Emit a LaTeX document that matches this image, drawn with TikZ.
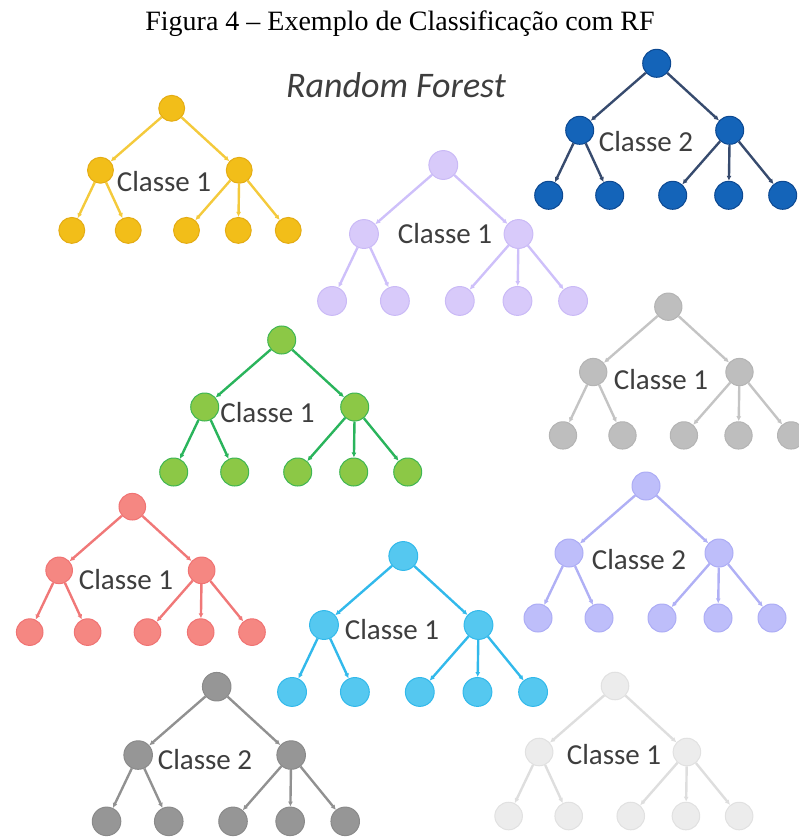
\documentclass[tikz,border=0pt]{standalone}
\usepackage{fontspec}
\setmainfont{Liberation Serif}
\newfontfamily\carlito{Carlito}
\usepackage{tikz}
\usetikzlibrary{arrows.meta}
\usepackage{xcolor}

% fill / rim / branch colours of each tree
\definecolor{goldfill}{RGB}{242,190,25}   \definecolor{goldrim}{RGB}{228,172,20}   \definecolor{goldline}{RGB}{244,202,60}
\definecolor{navyfill}{RGB}{20,100,185}   \definecolor{navyrim}{RGB}{12,72,145}    \definecolor{navyline}{RGB}{55,75,110}
\definecolor{lilacfill}{RGB}{216,202,250} \definecolor{lilacrim}{RGB}{202,186,246} \definecolor{lilacline}{RGB}{206,192,250}
\definecolor{silverfill}{RGB}{190,190,190}\definecolor{silverrim}{RGB}{180,180,180}\definecolor{silverline}{RGB}{196,196,196}
\definecolor{leaffill}{RGB}{140,200,70}   \definecolor{leafrim}{RGB}{62,182,82}    \definecolor{leafline}{RGB}{42,180,92}
\definecolor{salmonfill}{RGB}{245,135,130}\definecolor{salmonrim}{RGB}{240,115,115}\definecolor{salmonline}{RGB}{240,120,120}
\definecolor{skyfill}{RGB}{85,200,240}    \definecolor{skyrim}{RGB}{50,185,235}    \definecolor{skyline}{RGB}{50,185,235}
\definecolor{perifill}{RGB}{190,190,250}  \definecolor{peririm}{RGB}{172,172,245}  \definecolor{periline}{RGB}{176,176,245}
\definecolor{greyfill}{RGB}{150,150,150}  \definecolor{greyrim}{RGB}{138,138,138}  \definecolor{greyline}{RGB}{145,145,145}
\definecolor{palefill}{RGB}{236,236,236}  \definecolor{palerim}{RGB}{225,225,225}  \definecolor{paleline}{RGB}{222,222,222}
\definecolor{labelgray}{RGB}{62,62,62}

\tikzset{
  vertex/.style={circle, inner sep=0pt, line width=1pt},
  branch/.style={line width=2.4pt, -{Latex[length=5pt,width=5pt]}},
  classe/.style={inner sep=0pt, text=labelgray, font=\carlito\fontsize{29}{30}\selectfont},
}

% #1 tree name (also colour prefix), #2 root, #3 scale, #4 label position, #5 label
\newcommand{\rftree}[5]{%
  \begin{scope}[shift={#2}, scale=#3]
    \tikzset{every node/.append style={vertex, minimum size=#3*28pt, fill=#1fill, draw=#1rim}}
    \node (#1r) at (0,0) {};
    \node (#1a) at (-77,67) {};
    \node (#1b) at (73,67) {};
    \foreach \n/\x in {1/-108, 2/-47, 3/16, 4/72, 5/126}
      \node (#1\n) at (\x,132) {};
    \draw[branch, draw=#1line, fill=#1line] (#1r) -- (#1a);
    \draw[branch, draw=#1line, fill=#1line] (#1r) -- (#1b);
    \foreach \n in {1,2}
      \draw[branch, draw=#1line, fill=#1line] (#1a) -- (#1\n);
    \foreach \n in {3,4,5}
      \draw[branch, draw=#1line, fill=#1line] (#1b) -- (#1\n);
  \end{scope}
  \node[classe] at #4 {#5};
}

\begin{document}
\begin{tikzpicture}[x=1pt, y=-1pt]
  \useasboundingbox (0,0) rectangle (799,837);

  \node[anchor=base, inner sep=0pt, font=\fontsize{28}{30}\selectfont] (title) at (400,31)
    {Figura 4 -- Exemplo de Classificação com RF};
  \node[anchor=base, inner sep=0pt, text=labelgray, font=\carlito\itshape\fontsize{36}{38}\selectfont] (rf) at (396,98)
    {Random Forest};

  \rftree{gold}{(171.7,108.3)}{0.925}{(164,181.7)}{Classe 1}
  \rftree{navy}{(656.7,63.3)}{1.0}{(646,141.7)}{Classe 2}
  \rftree{lilac}{(443.3,165)}{1.03}{(445,234)}{Classe 1}
  \rftree{silver}{(668.3,306.7)}{0.975}{(661,379.3)}{Classe 1}
  \rftree{leaf}{(281.7,340)}{1.0}{(267.5,413)}{Classe 1}
  \rftree{salmon}{(132.3,506.7)}{0.95}{(126,579.3)}{Classe 1}
  \rftree{sky}{(403.3,556)}{1.03}{(392,630)}{Classe 1}
  \rftree{peri}{(646,486)}{1.0}{(639,559.3)}{Classe 2}
  \rftree{grey}{(216.7,686.7)}{1.02}{(205,760)}{Classe 2}
  \rftree{pale}{(615,686)}{0.985}{(614,754.3)}{Classe 1}
\end{tikzpicture}
\end{document}
